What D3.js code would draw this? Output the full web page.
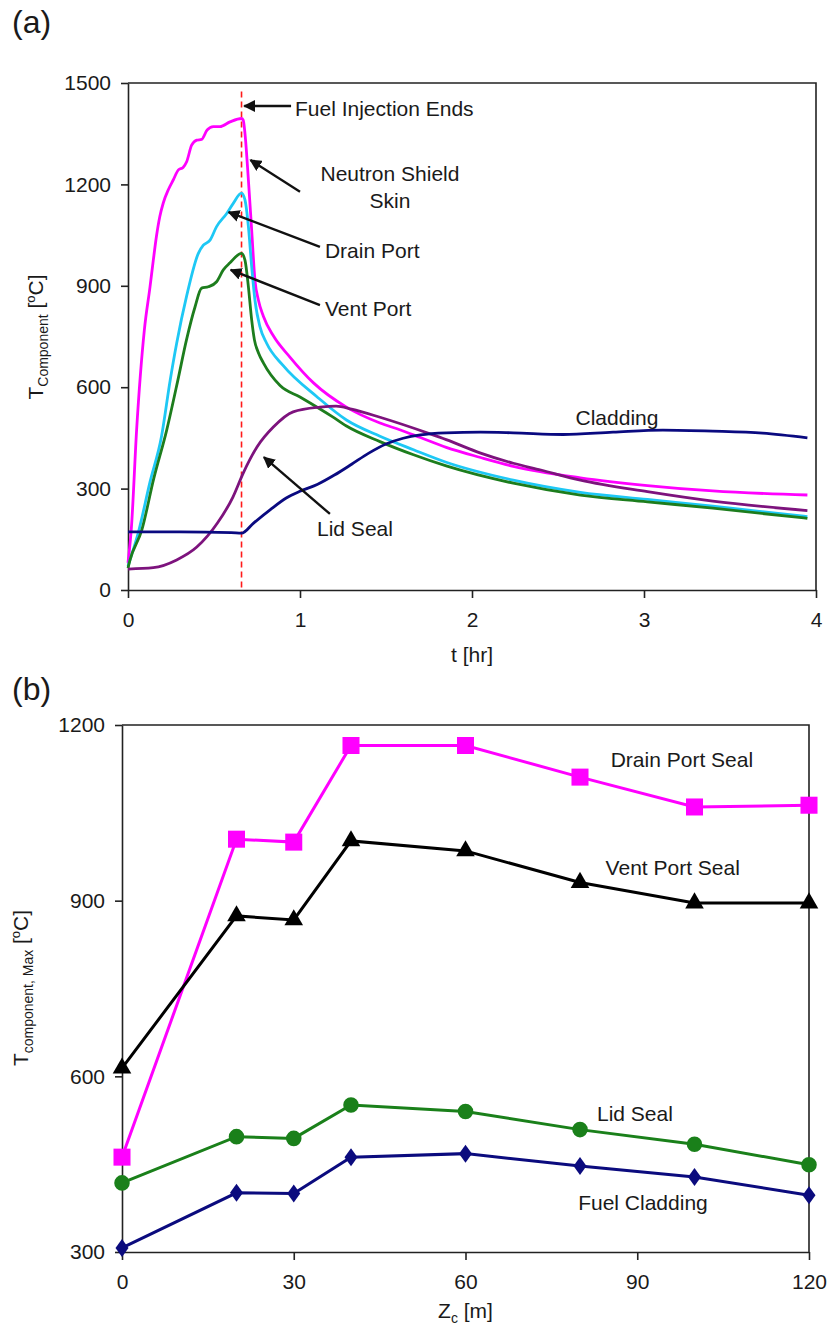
<!DOCTYPE html>
<html>
<head>
<meta charset="utf-8">
<script src="https://cdn.jsdelivr.net/npm/d3@7"></script>
<style>
  body { margin: 0; background: #fff; }
  text { font-family: "Liberation Sans", Arial, sans-serif; fill: #1a1a1a; }
  .axis path, .axis line { stroke: #222; stroke-width: 1.6; }
  .axis text { font-size: 21px; font-family: "Liberation Sans", Arial, sans-serif; fill: #1a1a1a; }
</style>
</head>
<body>
<div id="chart"></div>
<script>
// ---- panel (a): transient temperatures ----
var shieldT = [0, 0.02, 0.05, 0.095, 0.128, 0.147, 0.165, 0.185, 0.205, 0.235, 0.263, 0.293, 0.32, 0.341, 0.37, 0.40, 0.428, 0.46, 0.496, 0.535, 0.593, 0.66, 0.67, 0.68, 0.70, 0.719, 0.738, 0.758, 0.787, 0.845, 0.94, 1.08, 1.27, 1.465, 1.58, 1.70, 1.85, 2.05, 2.24, 2.63, 3.02, 3.40, 3.95];
var shieldV = [80, 186, 473, 769, 897, 975, 1045, 1105, 1145, 1185, 1213, 1243, 1250, 1267, 1316, 1331, 1333, 1361, 1371, 1371, 1385, 1395, 1390, 1351, 1213, 1065, 917, 858, 810, 752, 690, 612, 541, 494, 474, 451, 422, 392, 366, 332, 309, 293, 281];

var drainT = [0, 0.006, 0.06, 0.128, 0.195, 0.245, 0.283, 0.341, 0.409, 0.438, 0.477, 0.515, 0.574, 0.612, 0.66, 0.68, 0.70, 0.719, 0.738, 0.767, 0.806, 0.90, 1.10, 1.27, 1.465, 1.66, 1.85, 2.24, 2.63, 3.02, 3.40, 3.95];
var drainV = [70, 80, 170, 320, 455, 620, 730, 870, 996, 1020, 1035, 1075, 1114, 1144, 1174, 1154, 1075, 957, 858, 779, 730, 665, 571, 503, 455, 415, 378, 325, 289, 268, 248, 217];

var ventT = [0, 0.012, 0.08, 0.15, 0.225, 0.29, 0.34, 0.39, 0.428, 0.467, 0.515, 0.554, 0.593, 0.66, 0.68, 0.70, 0.719, 0.735, 0.76, 0.787, 0.884, 1.0, 1.19, 1.27, 1.465, 1.66, 1.85, 2.24, 2.63, 3.02, 3.40, 3.95];
var ventV = [65, 89, 177, 330, 473, 621, 740, 838, 893, 897, 912, 947, 968, 996, 976, 897, 799, 740, 700, 672, 605, 571, 512, 485, 439, 400, 367, 316, 281, 261, 242, 212];

var lidT = [0, 0.147, 0.283, 0.40, 0.52, 0.61, 0.67, 0.75, 0.845, 0.96, 1.116, 1.21, 1.30, 1.465, 1.756, 1.85, 2.05, 2.24, 2.40, 2.63, 3.02, 3.40, 3.95];
var lidV = [62, 66, 89, 127, 198, 275, 346, 423, 482, 527, 541, 544, 535, 511, 462, 445, 405, 375, 355, 325, 291, 263, 235];

var cladT = [0, 0.3, 0.6, 0.66, 0.73, 0.826, 0.92, 1.0, 1.1, 1.2, 1.3, 1.4, 1.5, 1.6, 1.7, 1.85, 2.05, 2.24, 2.53, 2.82, 3.11, 3.40, 3.69, 3.95];
var cladV = [172, 172, 170, 168, 198, 237, 272, 292, 312, 340, 372, 405, 432, 449, 459, 465, 467, 465, 460, 467, 473, 470, 464, 450];

var fuelEnd = 0.66;
var aTicksX = [0, 1, 2, 3, 4];
var aTicksY = [0, 300, 600, 900, 1200, 1500];

// ---- panel (b): maximum temperatures vs Zc ----
var zc = [0, 20, 30, 40, 60, 80, 100, 120];
var drainSeal = [462, 1005, 1000, 1165, 1165, 1111, 1060, 1063];
var ventSeal = [614, 874, 867, 1002, 985, 931, 896, 896];
var lidSeal = [418, 497, 494, 551, 540, 509, 484, 449];
var fuelClad = [307, 401, 400, 462, 468, 447, 428, 397];
var bTicksX = [0, 30, 60, 90, 120];
var bTicksY = [300, 600, 900, 1200];

var width = 829, height = 1329;
var svg = d3.select("#chart").append("svg")
    .attr("width", width)
    .attr("height", height);

svg.append("defs").append("marker")
    .attr("id", "arrow")
    .attr("viewBox", "0 0 10 10")
    .attr("refX", 9).attr("refY", 5)
    .attr("markerWidth", 5).attr("markerHeight", 5)
    .attr("markerUnits", "strokeWidth")
    .attr("orient", "auto")
    .append("path")
    .attr("d", "M0,0 L10,5 L0,10 z")
    .attr("fill", "#111");

function zip(xs, ys) {
    return xs.map(function(x, i) { return { x: x, y: ys[i] }; });
}

// ================= panel (a) =================
var xA = d3.scaleLinear().domain([0, 4]).range([128, 816]);
var yA = d3.scaleLinear().domain([0, 1500]).range([590, 83]);

svg.append("g").attr("class", "axis")
    .attr("transform", "translate(0,590)")
    .call(d3.axisBottom(xA).tickValues(aTicksX).tickFormat(d3.format("d"))
        .tickSize(8).tickPadding(14).tickSizeOuter(0));
svg.append("g").attr("class", "axis")
    .attr("transform", "translate(128,0)")
    .call(d3.axisLeft(yA).tickValues(aTicksY).tickFormat(d3.format("d"))
        .tickSize(7).tickPadding(10).tickSizeOuter(0));
// frame
svg.append("path")
    .attr("d", "M" + xA(0) + "," + yA(1500) + "H" + xA(4) + "V" + yA(0))
    .attr("fill", "none").attr("stroke", "#222").attr("stroke-width", 1.6);

// fuel injection end
svg.append("line")
    .attr("x1", xA(fuelEnd)).attr("x2", xA(fuelEnd))
    .attr("y1", yA(1475)).attr("y2", yA(0))
    .attr("stroke", "#ff1a1a").attr("stroke-width", 1.6)
    .attr("stroke-dasharray", "6,4");

var lineA = d3.line()
    .x(function(d) { return xA(d.x); })
    .y(function(d) { return yA(d.y); })
    .curve(d3.curveMonotoneX);

var seriesA = [
    { data: zip(shieldT, shieldV), color: "#ff00ff" },
    { data: zip(drainT, drainV), color: "#1ec8f5" },
    { data: zip(ventT, ventV), color: "#1d7d1d" },
    { data: zip(lidT, lidV), color: "#7d137d" },
    { data: zip(cladT, cladV), color: "#0a0a80" }
];
seriesA.forEach(function(s) {
    svg.append("path")
        .datum(s.data)
        .attr("fill", "none")
        .attr("stroke", s.color)
        .attr("stroke-width", 2.8)
        .attr("stroke-linejoin", "round")
        .attr("d", lineA);
});

// annotations (data units)
var arrowsA = [
    [0.948, 1432, 0.676, 1432],
    [1.0, 1178, 0.712, 1272],
    [1.116, 1015, 0.585, 1118],
    [1.116, 843, 0.597, 947],
    [1.174, 225, 0.79, 393]
];
arrowsA.forEach(function(a) {
    svg.append("line")
        .attr("x1", xA(a[0])).attr("y1", yA(a[1]))
        .attr("x2", xA(a[2])).attr("y2", yA(a[3]))
        .attr("stroke", "#111").attr("stroke-width", 2.4)
        .attr("marker-end", "url(#arrow)");
});

var labelsA = [
    { t: 0.971, v: 1426, text: "Fuel Injection Ends", anchor: "start" },
    { t: 1.523, v: 1231, text: "Neutron Shield", anchor: "middle" },
    { t: 1.523, v: 1154, text: "Skin", anchor: "middle" },
    { t: 1.145, v: 1006, text: "Drain Port", anchor: "start" },
    { t: 1.145, v: 834, text: "Vent Port", anchor: "start" },
    { t: 1.099, v: 183, text: "Lid Seal", anchor: "start" },
    { t: 2.843, v: 512, text: "Cladding", anchor: "middle" }
];
labelsA.forEach(function(l) {
    svg.append("text")
        .attr("x", xA(l.t)).attr("y", yA(l.v))
        .attr("dy", "0.36em")
        .attr("text-anchor", l.anchor)
        .attr("font-size", 21)
        .text(l.text);
});

svg.append("text").attr("x", 12).attr("y", 33)
    .attr("font-size", 32).text("(a)");

svg.append("text").attr("x", xA(2)).attr("y", 662)
    .attr("text-anchor", "middle").attr("font-size", 21).text("t [hr]");

var yLabA = svg.append("text")
    .attr("transform", "translate(43,337) rotate(-90)")
    .attr("text-anchor", "middle")
    .attr("font-size", 21);
yLabA.append("tspan").text("T");
yLabA.append("tspan").attr("font-size", 14).attr("dy", 5).text("Component");
yLabA.append("tspan").attr("dy", -5).text(" [");
yLabA.append("tspan").attr("font-size", 13).attr("dy", -8).text("o");
yLabA.append("tspan").attr("dy", 8).text("C]");

// ================= panel (b) =================
var xB = d3.scaleLinear().domain([0, 120]).range([122, 809]);
var yB = d3.scaleLinear().domain([300, 1200]).range([1252, 725]);

svg.append("g").attr("class", "axis")
    .attr("transform", "translate(0,1252)")
    .call(d3.axisBottom(xB).tickValues(bTicksX).tickFormat(d3.format("d"))
        .tickSize(8).tickPadding(14).tickSizeOuter(0));
svg.append("g").attr("class", "axis")
    .attr("transform", "translate(122,0)")
    .call(d3.axisLeft(yB).tickValues(bTicksY).tickFormat(d3.format("d"))
        .tickSize(7).tickPadding(10).tickSizeOuter(0));
svg.append("path")
    .attr("d", "M" + xB(0) + "," + yB(1200) + "H" + xB(120) + "V" + yB(300))
    .attr("fill", "none").attr("stroke", "#222").attr("stroke-width", 1.6);

var lineB = d3.line()
    .x(function(d) { return xB(d.x); })
    .y(function(d) { return yB(d.y); });

var seriesB = [
    { data: zip(zc, drainSeal), color: "#ff00ff", sym: d3.symbolSquare, size: 290 },
    { data: zip(zc, ventSeal), color: "#000000", sym: d3.symbolTriangle, size: 150 },
    { data: zip(zc, lidSeal), color: "#1a801a", sym: d3.symbolCircle, size: 190 },
    { data: zip(zc, fuelClad), color: "#0b0b7e", sym: "diamond", size: 0 }
];
seriesB.forEach(function(s) {
    svg.append("path")
        .datum(s.data)
        .attr("fill", "none")
        .attr("stroke", s.color)
        .attr("stroke-width", 3)
        .attr("d", lineB);
    var pts = svg.append("g").selectAll("path.m")
        .data(s.data).enter().append("path")
        .attr("class", "m")
        .attr("transform", function(d) { return "translate(" + xB(d.x) + "," + yB(d.y) + ")"; })
        .attr("fill", s.color);
    if (s.sym === "diamond") {
        pts.attr("d", "M0,-9 L6.5,0 L0,9 L-6.5,0 Z");
    } else {
        pts.attr("d", d3.symbol().type(s.sym).size(s.size));
    }
});

var labelsB = [
    { z: 97.8, v: 1142, text: "Drain Port Seal" },
    { z: 96.2, v: 956, text: "Vent Port Seal" },
    { z: 89.6, v: 537, text: "Lid Seal" },
    { z: 91.0, v: 385, text: "Fuel Cladding" }
];
labelsB.forEach(function(l) {
    svg.append("text")
        .attr("x", xB(l.z)).attr("y", yB(l.v))
        .attr("dy", "0.36em")
        .attr("text-anchor", "middle")
        .attr("font-size", 21)
        .text(l.text);
});

svg.append("text").attr("x", 12).attr("y", 700)
    .attr("font-size", 32).text("(b)");

var xLabB = svg.append("text")
    .attr("x", xB(60)).attr("y", 1318)
    .attr("text-anchor", "middle").attr("font-size", 21);
xLabB.append("tspan").text("Z");
xLabB.append("tspan").attr("font-size", 14).attr("dy", 5).text("c");
xLabB.append("tspan").attr("dy", -5).text(" [m]");

var yLabB = svg.append("text")
    .attr("transform", "translate(28,988) rotate(-90)")
    .attr("text-anchor", "middle")
    .attr("font-size", 21);
yLabB.append("tspan").text("T");
yLabB.append("tspan").attr("font-size", 14).attr("dy", 5).text("component, Max");
yLabB.append("tspan").attr("dy", -5).text(" [");
yLabB.append("tspan").attr("font-size", 13).attr("dy", -8).text("o");
yLabB.append("tspan").attr("dy", 8).text("C]");
</script>
</body>
</html>
